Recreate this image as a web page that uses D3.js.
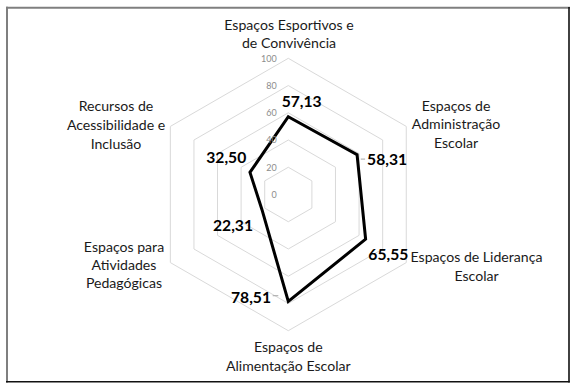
<!DOCTYPE html>
<html><head><meta charset="utf-8">
<script src="https://cdn.jsdelivr.net/npm/d3@7"></script>
<style>body{margin:0;background:#fff}svg{display:block}</style>
</head><body>
<svg id="c" width="578" height="389"></svg>
<script>
// ---- data ----
const categories = [
  ["Espaços Esportivos e", "de Convivência"],
  ["Espaços de", "Administração", "Escolar"],
  ["Espaços de Liderança", "Escolar"],
  ["Espaços de", "Alimentação Escolar"],
  ["Espaços para", "Atividades", "Pedagógicas"],
  ["Recursos de", "Acessibilidade e", "Inclusão"]
];
const values = [57.13, 58.31, 65.55, 78.51, 22.31, 32.50];
const valueLabels = ["57,13", "58,31", "65,55", "78,51", "22,31", "32,50"];
const ticks = [0, 20, 40, 60, 80, 100];

// ---- layout ----
const W = 578, H = 389;
const cx = 288.3, cy = 194.5, R = 136.2;
const FONT = "Lato, 'Open Sans', sans-serif";
const svg = d3.select("#c");

function fitSize(txt, weight, target) {
  const t = svg.append("text").attr("font-family", FONT).attr("font-weight", weight)
    .attr("font-size", 100).text(txt);
  const w = t.node().getComputedTextLength();
  t.remove();
  return 100 * target / w;
}
const catSize = fitSize("Acessibilidade e", 400, 98.3);
const valSize = fitSize("57,13", 700, 40);
const tickSize = fitSize("100", 400, 15.7);

svg.append("rect").attr("width", W).attr("height", H).attr("fill", "#fff");

const r = d3.scaleLinear().domain([0, 100]).range([0, R]);
const angle = d3.scaleLinear().domain([0, categories.length]).range([0, 2 * Math.PI]);
const radial = d3.lineRadial().angle((d, i) => angle(i)).radius(d => r(d)).curve(d3.curveLinearClosed);
const pt = (i, v) => [cx + r(v) * Math.sin(angle(i)), cy - r(v) * Math.cos(angle(i))];

const g = svg.append("g").attr("transform", `translate(${cx},${cy})`);

// grid rings
ticks.filter(t => t > 0).forEach(t => {
  g.append("path").attr("d", radial(categories.map(() => t)))
    .attr("fill", "none").attr("stroke", "#d9d9d9").attr("stroke-width", 1);
});

// tick labels
svg.append("g").selectAll("text").data(ticks).join("text")
  .attr("x", cx - 11.5).attr("y", d => cy - r(d) + tickSize * 0.36)
  .attr("text-anchor", "end").attr("font-family", FONT).attr("font-size", tickSize)
  .attr("fill", "#8c8c8c").text(d => d);

// small leader lines (relative to the data point)
[[1, 3.7, 8, 4.3], [3, -15.6, -10, -5.7]].forEach(([i, dx1, dx2, dy]) => {
  const [px, py] = pt(i, values[i]);
  svg.append("line").attr("x1", px + dx1).attr("x2", px + dx2)
    .attr("y1", py + dy).attr("y2", py + dy)
    .attr("stroke", "#a6a6a6").attr("stroke-width", 1);
});

// data polygon
g.append("path").attr("d", radial(values))
  .attr("fill", "none").attr("stroke", "#000").attr("stroke-width", 3)
  .attr("stroke-linejoin", "miter");

// category labels (block centre x, first baseline, line step)
const catLayout = [
  [289, 29.5, 18], [456, 110.5, 18.9], [476.5, 261.5, 19],
  [288.3, 352, 18.5], [124, 252, 18.2], [116, 111.3, 18.6]
];
categories.forEach((lines, i) => {
  const [x, y0, step] = catLayout[i];
  const t = svg.append("text").attr("font-family", FONT).attr("font-size", catSize)
    .attr("fill", "#1a1a1a").attr("text-anchor", "middle");
  lines.forEach((l, k) => t.append("tspan").attr("x", x).attr("y", y0 + k * step).text(l));
});

// value labels (offsets from data point to label centre)
const valOffset = [[13.4, -15.7], [30, 4.3], [22.7, 15], [-37.3, -4.4], [-29, 15.3], [-23.7, -15.4]];
values.forEach((v, i) => {
  const [px, py] = pt(i, v);
  const lx = px + valOffset[i][0], ly = py + valOffset[i][1];
  svg.append("text").attr("x", lx).attr("y", ly + valSize * 0.36)
    .attr("text-anchor", "middle").attr("font-family", FONT).attr("font-weight", 700)
    .attr("font-size", valSize).attr("fill", "#000").text(valueLabels[i]);
});

// frame
svg.append("line").attr("x1", 6).attr("x2", 570).attr("y1", 7.7).attr("y2", 7.7)
  .attr("stroke", "#7f7f7f").attr("stroke-width", 2);
svg.append("line").attr("x1", 7).attr("x2", 7).attr("y1", 6.7).attr("y2", 382.5)
  .attr("stroke", "#7f7f7f").attr("stroke-width", 2);
svg.append("line").attr("x1", 569).attr("x2", 569).attr("y1", 7).attr("y2", 382.5)
  .attr("stroke", "#111").attr("stroke-width", 1.6);
svg.append("line").attr("x1", 6).attr("x2", 569.8).attr("y1", 381.8).attr("y2", 381.8)
  .attr("stroke", "#111").attr("stroke-width", 1.6);
</script>
</body></html>
